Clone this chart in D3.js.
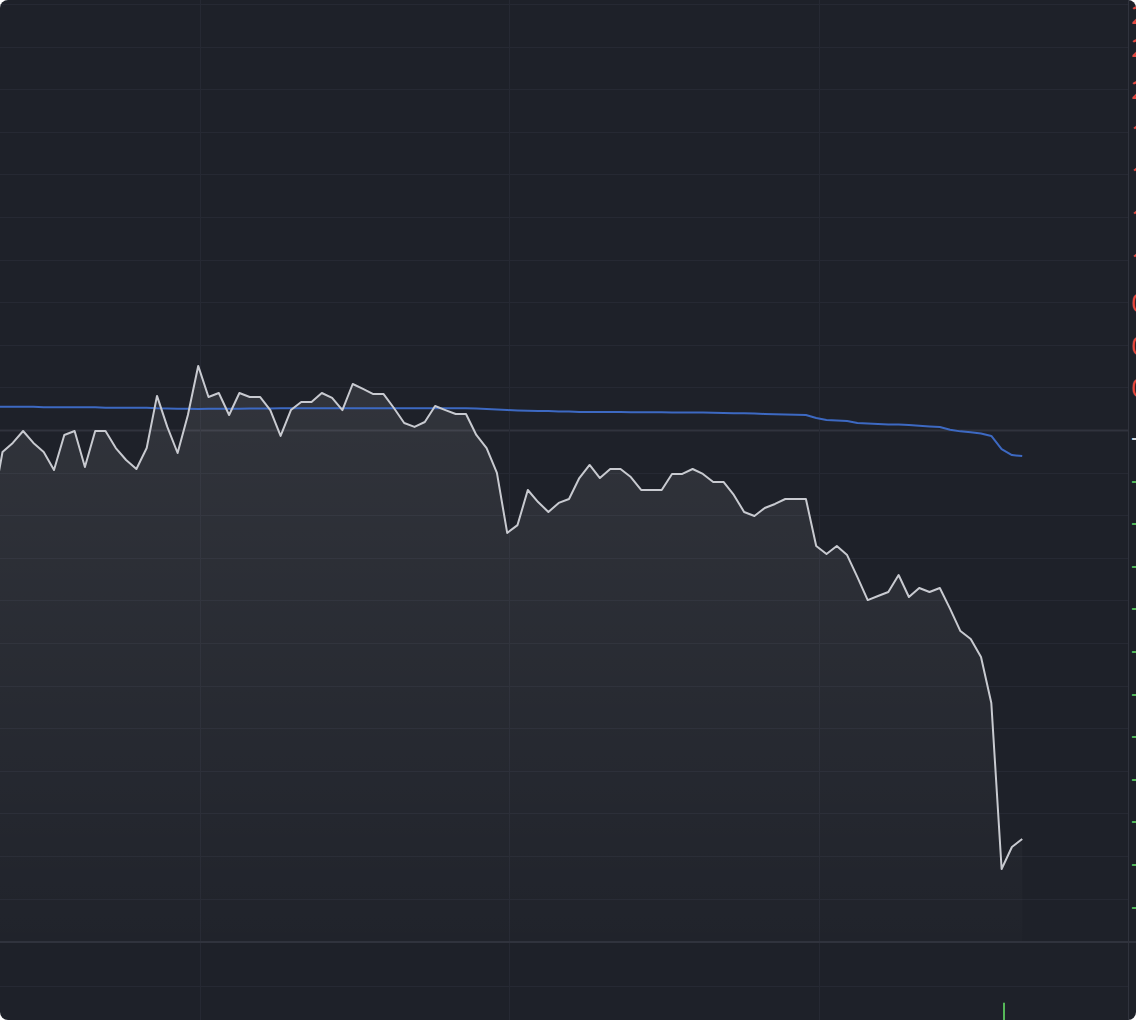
<!DOCTYPE html>
<html>
<head>
<meta charset="utf-8">
<script src="https://cdn.jsdelivr.net/npm/d3@7"></script>
<style>
  html, body { margin: 0; padding: 0; background: #ffffff; }
  #chart { width: 1136px; height: 1020px; }
</style>
</head>
<body>
<div id="chart"></div>
<script>
// Cumulative return of the strategy (%), one value per bar, bar -1 .. 99
var returnSeries = [
  -0.464, -0.129, -0.076, -0.006, -0.076, -0.129, -0.235, -0.029, -0.006, -0.217, -0.006,
  -0.006, -0.106, -0.176, -0.229, -0.106, 0.200, 0.018, -0.135, 0.088, 0.376,
  0.194, 0.217, 0.088, 0.217, 0.194, 0.194, 0.117, -0.035, 0.117, 0.164,
  0.164, 0.217, 0.188, 0.117, 0.270, 0.241, 0.211, 0.211, 0.129, 0.041,
  0.018, 0.047, 0.141, 0.117, 0.094, 0.094, -0.029, -0.106, -0.252, -0.604,
  -0.558, -0.352, -0.423, -0.481, -0.428, -0.405, -0.282, -0.205, -0.282, -0.229,
  -0.229, -0.276, -0.352, -0.352, -0.352, -0.258, -0.258, -0.229, -0.258, -0.305,
  -0.305, -0.381, -0.481, -0.505, -0.458, -0.434, -0.405, -0.405, -0.405, -0.681,
  -0.728, -0.681, -0.734, -0.863, -0.998, -0.974, -0.951, -0.851, -0.980, -0.927,
  -0.951, -0.927, -1.050, -1.180, -1.227, -1.332, -1.602, -2.576, -2.447, -2.400
];

// Benchmark (%), same bars
var benchmarkSeries = [
  0.136, 0.136, 0.136, 0.136, 0.136, 0.134, 0.134, 0.134, 0.134, 0.134, 0.134,
  0.131, 0.131, 0.131, 0.131, 0.131, 0.127, 0.126, 0.125, 0.124, 0.123,
  0.124, 0.125, 0.125, 0.125, 0.126, 0.126, 0.126, 0.127, 0.128, 0.128,
  0.128, 0.128, 0.128, 0.128, 0.128, 0.128, 0.128, 0.128, 0.128, 0.128,
  0.128, 0.128, 0.128, 0.128, 0.128, 0.128, 0.126, 0.123, 0.120, 0.117,
  0.115, 0.113, 0.112, 0.111, 0.109, 0.108, 0.106, 0.106, 0.106, 0.105,
  0.105, 0.104, 0.104, 0.104, 0.104, 0.103, 0.103, 0.102, 0.102, 0.101,
  0.100, 0.099, 0.098, 0.097, 0.094, 0.092, 0.091, 0.090, 0.088, 0.070,
  0.059, 0.056, 0.053, 0.041, 0.038, 0.035, 0.033, 0.032, 0.029, 0.025,
  0.021, 0.018, 0.002, -0.008, -0.013, -0.021, -0.035, -0.112, -0.147, -0.153
];

var firstBar = -1;

// Volume pane: only one non-zero bar
var volumeBars = [97];
var volumeValues = [31];

// Right price scale
var priceTicks = [2.5, 2.25, 2.0, 1.75, 1.5, 1.25, 1.0, 0.75, 0.5, 0.25, 0,
  -0.25, -0.5, -0.75, -1.0, -1.25, -1.5, -1.75, -2.0, -2.25, -2.5, -2.75];
var priceTickLabels = ['2.50%', '2.25%', '2.00%', '1.75%', '1.50%', '1.25%', '1.00%',
  '0.75%', '0.50%', '0.25%', '-0.00%', '-0.25%', '-0.50%', '-0.75%', '-1.00%',
  '-1.25%', '-1.50%', '-1.75%', '-2.00%', '-2.25%', '-2.50%', '-2.75%'];
var volumeTicks = [50];

// Time grid (bar index)
var timeTicks = [19.17, 49.17, 79.27];

(function () {
  var W = 1136, H = 1020,
      plotW = 1128,
      mainH = 941.2,
      bg = '#1e2129',
      gridColor = '#262933',
      strongGrid = '#30333d',
      upColor = '#e5483f',
      downColor = '#55b758';

  var bars = d3.range(firstBar, firstBar + returnSeries.length);

  var x = d3.scaleLinear().domain([-0.243, 109.27]).range([0, plotW]),
      y = d3.scaleLinear().domain([-3, 2.5235]).range([mainH, 0]),
      yVol = d3.scaleLinear().domain([0, 100]).range([1030, 942]);

  var svg = d3.select('#chart').append('svg')
      .attr('width', W)
      .attr('height', H);

  var defs = svg.append('defs');
  defs.append('clipPath').attr('id', 'panel')
    .append('rect').attr('width', W).attr('height', H).attr('rx', 8).attr('ry', 8);
  defs.append('clipPath').attr('id', 'plot')
    .append('rect').attr('width', plotW).attr('height', mainH);

  var grad = defs.append('linearGradient').attr('id', 'areaFill')
      .attr('gradientUnits', 'userSpaceOnUse')
      .attr('x1', 0).attr('y1', 0).attr('x2', 0).attr('y2', mainH);
  grad.append('stop').attr('offset', 0).attr('stop-color', '#ffffff').attr('stop-opacity', 0.14);
  grad.append('stop').attr('offset', 1).attr('stop-color', '#ffffff').attr('stop-opacity', 0.01);

  var root = svg.append('g').attr('clip-path', 'url(#panel)');

  root.append('rect').attr('width', W).attr('height', H).attr('fill', bg);

  // horizontal grid, main pane
  root.append('g').selectAll('line')
    .data(priceTicks)
    .enter().append('line')
      .attr('x1', 0).attr('x2', plotW)
      .attr('y1', function (d) { return Math.round(y(d)) + 0.5; })
      .attr('y2', function (d) { return Math.round(y(d)) + 0.5; })
      .attr('stroke', function (d) { return d === 0 ? strongGrid : gridColor; })
      .attr('stroke-width', function (d) { return d === 0 ? 2 : 1; });

  // horizontal grid, volume pane
  root.append('g').selectAll('line')
    .data(volumeTicks)
    .enter().append('line')
      .attr('x1', 0).attr('x2', plotW)
      .attr('y1', function (d) { return Math.round(yVol(d)) + 0.5; })
      .attr('y2', function (d) { return Math.round(yVol(d)) + 0.5; })
      .attr('stroke', gridColor);

  // vertical grid
  root.append('g').selectAll('line')
    .data(timeTicks)
    .enter().append('line')
      .attr('x1', function (d) { return Math.round(x(d)) + 0.5; })
      .attr('x2', function (d) { return Math.round(x(d)) + 0.5; })
      .attr('y1', 0).attr('y2', H)
      .attr('stroke', gridColor);

  // pane separator + price axis border
  root.append('line')
    .attr('x1', 0).attr('x2', W)
    .attr('y1', 942).attr('y2', 942)
    .attr('stroke', strongGrid).attr('stroke-width', 2);
  root.append('line')
    .attr('x1', plotW + 0.5).attr('x2', plotW + 0.5)
    .attr('y1', 0).attr('y2', H)
    .attr('stroke', strongGrid);

  var plot = root.append('g').attr('clip-path', 'url(#plot)');

  var area = d3.area()
      .x(function (d) { return x(d); })
      .y0(mainH)
      .y1(function (d) { return y(returnSeries[d - firstBar]); });

  var retLine = d3.line()
      .x(function (d) { return x(d); })
      .y(function (d) { return y(returnSeries[d - firstBar]); });

  var benchLine = d3.line()
      .x(function (d) { return x(d); })
      .y(function (d) { return y(benchmarkSeries[d - firstBar]); });

  plot.append('path')
    .datum(bars)
    .attr('d', area)
    .attr('fill', 'url(#areaFill)');

  plot.append('path')
    .datum(bars)
    .attr('d', benchLine)
    .attr('fill', 'none')
    .attr('stroke', '#3d69c2')
    .attr('stroke-width', 2)
    .attr('stroke-linejoin', 'round');

  plot.append('path')
    .datum(bars)
    .attr('d', retLine)
    .attr('fill', 'none')
    .attr('stroke', '#c8cad0')
    .attr('stroke-width', 2)
    .attr('stroke-linejoin', 'round');

  // volume histogram
  root.append('g').selectAll('rect')
    .data(volumeBars)
    .enter().append('rect')
      .attr('x', function (d) { return Math.round(x(d)) + 1; })
      .attr('width', 2)
      .attr('y', function (d, i) { return yVol(volumeValues[i]); })
      .attr('height', function (d, i) { return yVol(0) - yVol(volumeValues[i]); })
      .attr('fill', downColor);

  // price scale labels (mostly cut off by the panel edge)
  root.append('g').selectAll('text')
    .data(priceTicks)
    .enter().append('text')
      .attr('x', plotW + 3)
      .attr('y', function (d) { return Math.max(y(d), 14) + (d <= 0 ? 6 : 0); })
      .attr('dominant-baseline', 'central')
      .attr('font-family', '"Noto Sans", sans-serif')
      .attr('font-size', 26)
      .attr('fill', function (d) { return d > 0 ? upColor : (d < 0 ? downColor : '#d6d8dd'); })
      .text(function (d, i) { return priceTickLabels[i]; });
})();
</script>
</body>
</html>
